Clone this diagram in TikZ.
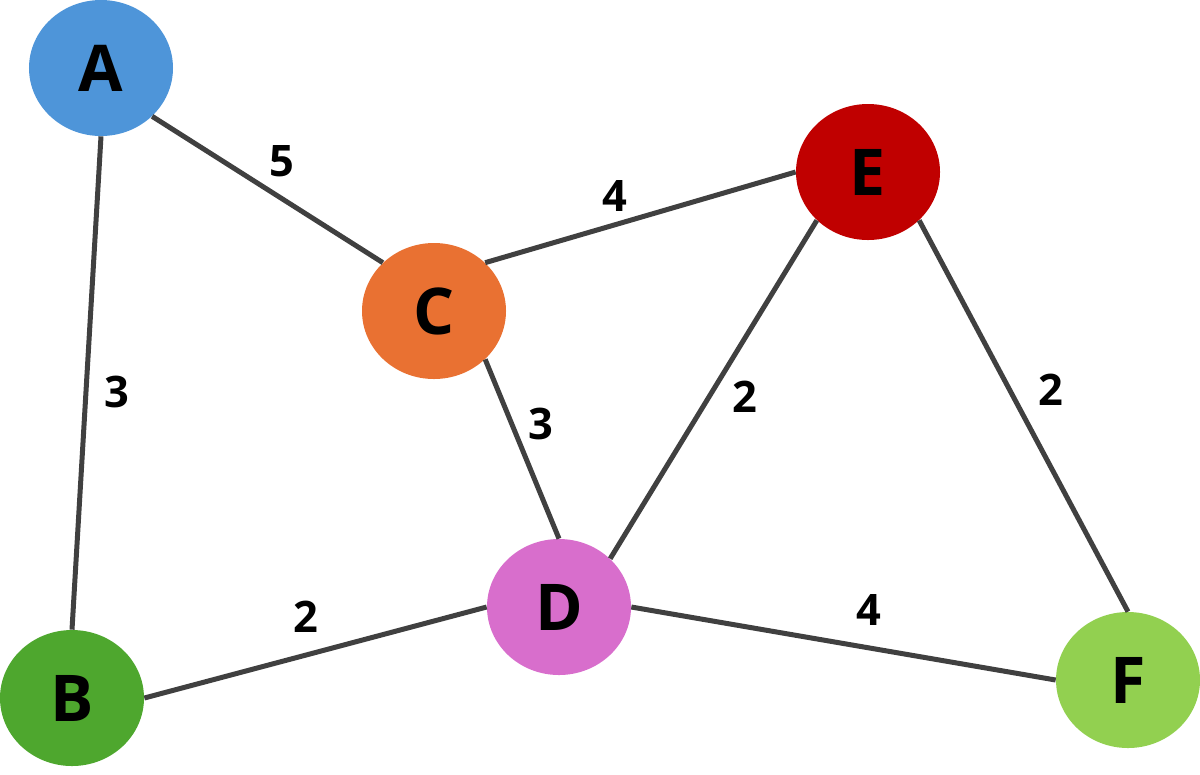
\documentclass[tikz,border=0pt]{standalone}
\usepackage{fontspec}
\setmainfont{Open Sans}
\usetikzlibrary{shapes.geometric}

\definecolor{nodeA}{HTML}{4E95D9}
\definecolor{nodeB}{HTML}{4EA72E}
\definecolor{nodeC}{HTML}{E97132}
\definecolor{nodeD}{HTML}{D86ECC}
\definecolor{nodeE}{HTML}{C00000}
\definecolor{nodeF}{HTML}{92D050}
\definecolor{linkgray}{HTML}{404040}

\tikzset{
  vertex/.style={ellipse, minimum width=28.8mm, minimum height=27.2mm, inner sep=0pt,
    text=black, font=\fontsize{36.7}{40}\selectfont\bfseries},
  link/.style={draw=linkgray, line width=1mm},
  weight/.style={inner sep=0pt, text=black, font=\fontsize{24.7}{28}\selectfont\bfseries}
}

\begin{document}
\begin{tikzpicture}[x=0.2mm, y=-0.2mm]

	% Canvas
	\useasboundingbox (0,0) rectangle (1200,774);

	% Vertices
	\node[vertex, fill=nodeA] (A) at (101,68)   {A};
	\node[vertex, fill=nodeB] (B) at (72,698)   {B};
	\node[vertex, fill=nodeC] (C) at (434,311)  {C};
	\node[vertex, fill=nodeD] (D) at (559,607)  {D};
	\node[vertex, fill=nodeE] (E) at (868,172)  {E};
	\node[vertex, fill=nodeF] (F) at (1128,680) {F};

	% Edges
	\draw[link] (A.south east) -- (C.north west);
	\draw[link] (A.south)      -- (B.north);
	\draw[link] (C.north east) -- (E.west);
	\draw[link] (C.south east) -- (D.north);
	\draw[link] (D.north east) -- (E.south west);
	\draw[link] (B.east)       -- (D.west);
	\draw[link] (E.south east) -- (F.north);
	\draw[link] (D.east)       -- (F.west);

	% Weights
	\node[weight] (wAC) at (282,161)  {5};
	\node[weight] (wAB) at (117,392)  {3};
	\node[weight] (wCE) at (615,196)  {4};
	\node[weight] (wCD) at (541,424)  {3};
	\node[weight] (wDE) at (745,397)  {2};
	\node[weight] (wEF) at (1051,390) {2};
	\node[weight] (wBD) at (306,617)  {2};
	\node[weight] (wDF) at (869,610)  {4};

\end{tikzpicture}
\end{document}
